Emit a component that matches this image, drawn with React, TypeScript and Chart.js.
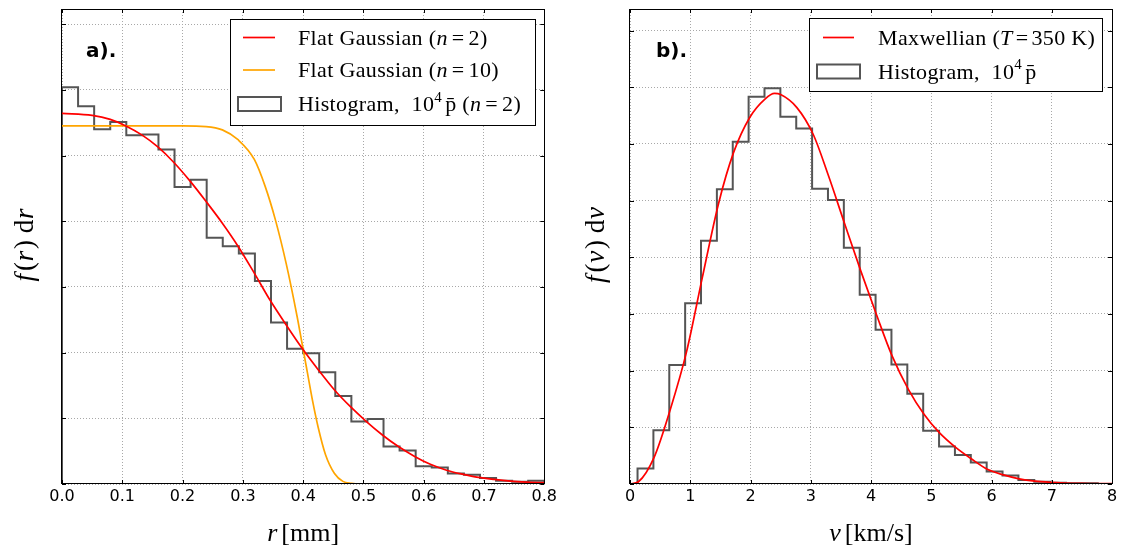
import React, { useEffect, useRef } from 'react';
import { Chart, registerables } from 'chart.js';

Chart.register(...registerables);

// ---------- Panel a) : radial distribution ----------
const rBinStart = 0;
const rBinWidth = 0.8 / 30;
const rHistogram = [
  6.04, 5.75, 5.4, 5.51, 5.31, 5.32, 5.09, 4.52, 4.63, 3.75,
  3.62, 3.51, 3.09, 2.46, 2.06, 1.99, 1.7, 1.34, 0.95, 0.99,
  0.57, 0.51, 0.27, 0.25, 0.16, 0.14, 0.09, 0.05, 0.035, 0.05,
];
const rFlatN2X = [
  0, 0.05, 0.08, 0.106, 0.133, 0.159, 0.186, 0.2125, 0.239, 0.266,
  0.292, 0.319, 0.345, 0.372, 0.398, 0.425, 0.452, 0.478, 0.505, 0.531,
  0.558, 0.585, 0.611, 0.638, 0.664, 0.691, 0.717, 0.744, 0.77, 0.8,
];
const rFlatN2Y = [
  5.64, 5.61, 5.55, 5.45, 5.31, 5.13, 4.89, 4.61, 4.3, 3.97,
  3.62, 3.21, 2.8, 2.42, 2.07, 1.74, 1.43, 1.18, 0.95, 0.75,
  0.57, 0.42, 0.3, 0.21, 0.15, 0.1, 0.07, 0.045, 0.03, 0.02,
];
const rFlatN10X = [
  0, 0.1, 0.2, 0.239, 0.266, 0.292, 0.319, 0.337, 0.354, 0.372,
  0.39, 0.398, 0.407, 0.416, 0.425, 0.437, 0.452, 0.466, 0.48, 0.495, 0.8,
];
const rFlatN10Y = [
  5.45, 5.45, 5.45, 5.44, 5.39, 5.24, 4.94, 4.53, 4.02, 3.35,
  2.55, 2.15, 1.7, 1.25, 0.86, 0.45, 0.16, 0.04, 0.01, 0, 0,
];
const rTicks = [0, 0.1, 0.2, 0.3, 0.4, 0.5, 0.6, 0.7, 0.8];
const rTickLabels = ['0.0', '0.1', '0.2', '0.3', '0.4', '0.5', '0.6', '0.7', '0.8'];
const rYTicks = [0, 1, 2, 3, 4, 5, 6, 7];
const rYMax = 7.23;

// ---------- Panel b) : speed distribution ----------
const vBinStart = 0.125;
const vBinWidth = 0.2634;
const vHistogram = [
  0.275, 0.95, 2.1, 3.19, 4.29, 5.2, 6.04, 6.83, 6.98, 6.48,
  6.27, 5.21, 5.01, 4.17, 3.34, 2.72, 2.11, 1.59, 0.94, 0.66,
  0.51, 0.38, 0.22, 0.15, 0.07, 0.04, 0.02, 0.015, 0.015,
];
const vMaxwellX = [
  0, 0.14, 0.4, 0.67, 0.94, 1.2, 1.47, 1.72, 1.99, 2.24,
  2.4, 2.5, 2.77, 3.04, 3.29, 3.56, 3.83, 4.09, 4.35, 4.62,
  4.88, 5.13, 5.4, 5.67, 5.93, 6.2, 6.46, 6.72, 6.97, 7.5, 8,
];
const vMaxwellY = [
  0, 0.04, 0.47, 1.32, 2.34, 3.64, 4.95, 5.85, 6.47, 6.79,
  6.89, 6.87, 6.64, 6.17, 5.45, 4.6, 3.76, 2.99, 2.26, 1.67,
  1.23, 0.91, 0.65, 0.44, 0.26, 0.16, 0.09, 0.05, 0.03, 0.01, 0.005,
];
const vTicks = [0, 1, 2, 3, 4, 5, 6, 7, 8];
const vTickLabels = ['0', '1', '2', '3', '4', '5', '6', '7', '8'];
const vYTicks = [0, 1, 2, 3, 4, 5, 6, 7, 8];
const vYMax = 8.38;

// ---------- helpers ----------
const SERIF = '"Liberation Serif", "DejaVu Serif", serif';
const SANS = '"DejaVu Sans", sans-serif';
const HIST_COLOR = '#555555';

type Seg = { t: string; it?: boolean; sup?: boolean; dx?: number };

function stepPoints(start: number, width: number, heights: number[]) {
  const pts: { x: number; y: number }[] = [{ x: start, y: 0 }];
  heights.forEach((h, i) => {
    pts.push({ x: start + i * width, y: h });
    pts.push({ x: start + (i + 1) * width, y: h });
  });
  pts.push({ x: start + heights.length * width, y: 0 });
  return pts;
}

function zipPoints(xs: number[], ys: number[]) {
  return xs.map((x, i) => ({ x, y: ys[i] }));
}

function segFont(s: Seg, size: number) {
  const sz = s.sup ? Math.round(size * 0.7) : size;
  return `${s.it ? 'italic ' : ''}${sz}px ${SERIF}`;
}

function richWidth(ctx: CanvasRenderingContext2D, segs: Seg[], size: number) {
  let w = 0;
  for (const s of segs) {
    ctx.font = segFont(s, size);
    w += ctx.measureText(s.t).width + (s.dx || 0);
  }
  return w;
}

function drawRich(
  ctx: CanvasRenderingContext2D,
  segs: Seg[],
  x: number,
  y: number,
  size: number,
  align: 'left' | 'center',
  spacing = 0
) {
  const c: any = ctx;
  const prevLS = c.letterSpacing;
  c.letterSpacing = `${spacing}px`;
  ctx.textBaseline = 'alphabetic';
  ctx.textAlign = 'left';
  ctx.fillStyle = '#000';
  let cx = align === 'center' ? x - richWidth(ctx, segs, size) / 2 : x;
  for (const s of segs) {
    ctx.font = segFont(s, size);
    ctx.fillText(s.t, cx, s.sup ? y - size * 0.42 : y);
    cx += ctx.measureText(s.t).width + (s.dx || 0);
  }
  c.letterSpacing = prevLS || '0px';
}

type LegendRow =
  | { kind: 'line'; color: string; segs: Seg[] }
  | { kind: 'patch'; segs: Seg[] };

type Decor = {
  xTicks: number[];
  yTicks: number[];
  legendBox: [number, number, number, number];
  legendRows: LegendRow[];
  rowBaselines: number[];
  markerX: [number, number];
  patchX: [number, number];
  textX: number;
  panelLabel: string;
  panelX: number;
  xTitle: Seg[];
  yTitle: Seg[];
  yTitleX: number;
};

function makeDecorPlugin(d: Decor) {
  return {
    id: 'decor',
    afterDraw(chart: any) {
      const ctx: CanvasRenderingContext2D = chart.ctx;
      const a = chart.chartArea;
      const sx = chart.scales.x;
      const sy = chart.scales.y;
      ctx.save();

      // inward ticks
      ctx.strokeStyle = '#000';
      ctx.lineWidth = 1;
      ctx.beginPath();
      const L = 4;
      for (const v of d.xTicks) {
        const px = Math.round(sx.getPixelForValue(v)) + 0.5;
        ctx.moveTo(px, a.top);
        ctx.lineTo(px, a.top + L);
        ctx.moveTo(px, a.bottom);
        ctx.lineTo(px, a.bottom - L);
      }
      for (const v of d.yTicks) {
        const py = Math.round(sy.getPixelForValue(v)) + 0.5;
        ctx.moveTo(a.left, py);
        ctx.lineTo(a.left + L, py);
        ctx.moveTo(a.right, py);
        ctx.lineTo(a.right - L, py);
      }
      ctx.stroke();

      // frame
      ctx.strokeRect(
        Math.round(a.left) - 0.5,
        Math.round(a.top) + 0.5,
        Math.round(a.right - a.left) + 1,
        Math.round(a.bottom - a.top) - 1
      );

      // legend
      const [bx0, by0, bx1, by1] = d.legendBox;
      ctx.fillStyle = '#fff';
      ctx.fillRect(bx0, by0, bx1 - bx0, by1 - by0);
      ctx.strokeStyle = '#000';
      ctx.lineWidth = 1;
      ctx.strokeRect(bx0 + 0.5, by0 + 0.5, bx1 - bx0, by1 - by0);
      const fs = 22;
      d.legendRows.forEach((row, i) => {
        const base = d.rowBaselines[i];
        const mid = base - 7;
        if (row.kind === 'line') {
          ctx.strokeStyle = row.color;
          ctx.lineWidth = 1.7;
          ctx.beginPath();
          ctx.moveTo(d.markerX[0], mid);
          ctx.lineTo(d.markerX[1], mid);
          ctx.stroke();
        } else {
          ctx.strokeStyle = HIST_COLOR;
          ctx.lineWidth = 2;
          ctx.strokeRect(d.patchX[0], mid - 7, d.patchX[1] - d.patchX[0], 14);
        }
        drawRich(ctx, row.segs, d.textX, base, fs, 'left', 0.35);
      });

      // panel label
      ctx.font = `bold 20px ${SANS}`;
      ctx.fillStyle = '#000';
      ctx.textAlign = 'left';
      ctx.textBaseline = 'alphabetic';
      ctx.fillText(d.panelLabel, d.panelX, 57);

      // axis titles
      const cxm = (a.left + a.right) / 2;
      drawRich(ctx, d.xTitle, cxm, 541, 26, 'center');
      ctx.translate(d.yTitleX + 8, (a.top + a.bottom) / 2 - 2);
      ctx.rotate(-Math.PI / 2);
      drawRich(ctx, d.yTitle, 0, 0, 27, 'center', 0.8);

      ctx.restore();
    },
  };
}

function makeOptions(
  xMin: number,
  xMax: number,
  xTicks: number[],
  xLabels: string[],
  yMax: number,
  yTicks: number[],
  padLeft: number,
  padRight: number
): any {
  return {
    responsive: false,
    animation: false,
    events: [],
    layout: { padding: { left: padLeft, right: padRight, top: 9, bottom: 0 } },
    plugins: { legend: { display: false }, tooltip: { enabled: false } },
    elements: { point: { radius: 0 } },
    scales: {
      x: {
        type: 'linear',
        min: xMin,
        max: xMax,
        afterBuildTicks: (s: any) => {
          s.ticks = xTicks.map((v) => ({ value: v }));
        },
        afterFit: (s: any) => {
          s.height = 66;
        },
        ticks: {
          autoSkip: false,
          maxRotation: 0,
          padding: 3,
          color: '#000',
          font: { family: SANS, size: 16 },
          callback: (_v: any, i: number) => xLabels[i],
        },
        grid: {
          drawTicks: false,
          color: '#a8a8a8',
          lineWidth: 1,
        },
        border: { display: false, dash: [1, 2] },
      },
      y: {
        type: 'linear',
        min: 0,
        max: yMax,
        afterBuildTicks: (s: any) => {
          s.ticks = yTicks.map((v) => ({ value: v }));
        },
        afterFit: (s: any) => {
          s.width = 0;
        },
        ticks: { display: false },
        grid: {
          drawTicks: false,
          color: '#a8a8a8',
          lineWidth: 1,
        },
        border: { display: false, dash: [1, 2] },
      },
    },
  };
}

function PanelA() {
  const ref = useRef<HTMLCanvasElement>(null);
  useEffect(() => {
    if (!ref.current) return;
    const opts = makeOptions(0, 0.8, rTicks, rTickLabels, rYMax, rYTicks, 62, 15);
    const chart = new Chart(ref.current, {
      type: 'line',
      data: {
        datasets: [
          {
            label: 'Flat Gaussian (n = 2)',
            data: zipPoints(rFlatN2X, rFlatN2Y),
            borderColor: '#ff0000',
            borderWidth: 1.7,
            cubicInterpolationMode: 'monotone',
            pointRadius: 0,
            fill: false,
          },
          {
            label: 'Flat Gaussian (n = 10)',
            data: zipPoints(rFlatN10X, rFlatN10Y),
            borderColor: '#ffa500',
            borderWidth: 1.7,
            cubicInterpolationMode: 'monotone',
            pointRadius: 0,
            fill: false,
          },
          {
            label: 'Histogram',
            data: stepPoints(rBinStart, rBinWidth, rHistogram),
            borderColor: HIST_COLOR,
            borderWidth: 2,
            tension: 0,
            pointRadius: 0,
            fill: false,
          },
        ],
      },
      options: opts,
      plugins: [
        makeDecorPlugin({
          xTicks: rTicks,
          yTicks: rYTicks,
          legendBox: [230, 19, 535, 125],
          legendRows: [
            {
              kind: 'line',
              color: '#ff0000',
              segs: [{ t: 'Flat Gaussian ' }, { t: '(' }, { t: 'n', it: true, dx: 4 }, { t: '=', dx: 4 }, { t: '2)' }],
            },
            {
              kind: 'line',
              color: '#ffa500',
              segs: [{ t: 'Flat Gaussian ' }, { t: '(' }, { t: 'n', it: true, dx: 4 }, { t: '=', dx: 4 }, { t: '10)' }],
            },
            {
              kind: 'patch',
              segs: [
                { t: 'Histogram,  10' },
                { t: '4', sup: true, dx: 3 },
                { t: 'p\u0304 (' },
                { t: 'n', it: true, dx: 4 },
                { t: '=', dx: 4 },
                { t: '2)' },
              ],
            },
          ],
          rowBaselines: [44.5, 77, 111],
          markerX: [243, 275],
          patchX: [238, 281],
          textX: 298,
          panelLabel: 'a).',
          panelX: 86,
          xTitle: [{ t: 'r', it: true, dx: 4 }, { t: '[mm]' }],
          yTitle: [{ t: 'f', it: true, dx: 2 }, { t: '(' }, { t: 'r', it: true, dx: 1 }, { t: ')', dx: 6 }, { t: 'd' }, { t: 'r', it: true }],
          yTitleX: 25,
        }),
      ],
    } as any);
    return () => chart.destroy();
  }, []);
  return (
    <canvas
      ref={ref}
      width={560}
      height={550}
      style={{ position: 'absolute', left: 0, top: 0, width: 560, height: 550 }}
    />
  );
}

function PanelB() {
  const ref = useRef<HTMLCanvasElement>(null);
  useEffect(() => {
    if (!ref.current) return;
    const opts = makeOptions(0, 8, vTicks, vTickLabels, vYMax, vYTicks, 65, 11);
    const chart = new Chart(ref.current, {
      type: 'line',
      data: {
        datasets: [
          {
            label: 'Maxwellian (T = 350 K)',
            data: zipPoints(vMaxwellX, vMaxwellY),
            borderColor: '#ff0000',
            borderWidth: 1.7,
            cubicInterpolationMode: 'monotone',
            pointRadius: 0,
            fill: false,
          },
          {
            label: 'Histogram',
            data: stepPoints(vBinStart, vBinWidth, vHistogram),
            borderColor: HIST_COLOR,
            borderWidth: 2,
            tension: 0,
            pointRadius: 0,
            fill: false,
          },
        ],
      },
      options: opts,
      plugins: [
        makeDecorPlugin({
          xTicks: vTicks,
          yTicks: vYTicks,
          legendBox: [244, 18, 537, 91],
          legendRows: [
            {
              kind: 'line',
              color: '#ff0000',
              segs: [{ t: 'Maxwellian ' }, { t: '(' }, { t: 'T', it: true, dx: 3 }, { t: '=', dx: 3 }, { t: '350 K)' }],
            },
            {
              kind: 'patch',
              segs: [{ t: 'Histogram,  10' }, { t: '4', sup: true, dx: 3 }, { t: 'p\u0304' }],
            },
          ],
          rowBaselines: [44.5, 78.5],
          markerX: [258, 289],
          patchX: [252, 295],
          textX: 313,
          panelLabel: 'b).',
          panelX: 91,
          xTitle: [{ t: 'v', it: true, dx: 4 }, { t: '[km/s]' }],
          yTitle: [{ t: 'f', it: true, dx: 2 }, { t: '(' }, { t: 'v', it: true, dx: 1 }, { t: ')', dx: 6 }, { t: 'd' }, { t: 'v', it: true }],
          yTitleX: 31,
        }),
      ],
    } as any);
    return () => chart.destroy();
  }, []);
  return (
    <canvas
      ref={ref}
      width={558}
      height={550}
      style={{ position: 'absolute', left: 565, top: 0, width: 558, height: 550 }}
    />
  );
}

export default function App() {
  return (
    <div
      style={{
        position: 'fixed',
        left: 0,
        top: 0,
        width: 1123,
        height: 550,
        background: '#ffffff',
        overflow: 'hidden',
      }}
    >
      <PanelA />
      <PanelB />
    </div>
  );
}
